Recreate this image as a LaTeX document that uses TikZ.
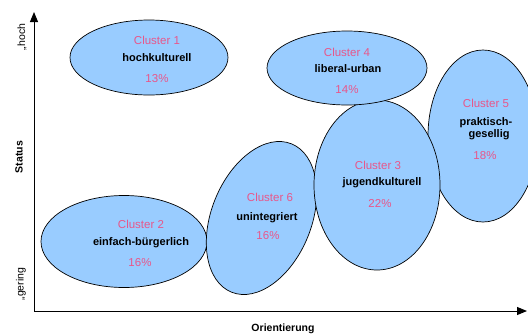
\documentclass[tikz,border=0pt]{standalone}
\usepackage{fontspec}
\setmainfont{Liberation Sans}
\usetikzlibrary{arrows.meta}
\definecolor{clfill}{HTML}{99CCFF}
\definecolor{clpink}{HTML}{E8568A}
\tikzset{
  clshape/.style={fill=clfill, draw=black, line width=0.7pt},
  cltitle/.style={text=clpink, font=\fontsize{11.5}{13}\selectfont, inner sep=0pt},
  clname/.style={text=black, font=\fontsize{11}{13}\selectfont\bfseries, inner sep=0pt, align=center},
  clpct/.style={text=clpink, font=\fontsize{11.5}{13}\selectfont, inner sep=0pt},
  axis/.style={line width=1pt, -{Triangle[length=10pt,width=8pt]}},
  axlabel/.style={font=\fontsize{10.5}{12}\selectfont\bfseries, inner sep=0pt},
  axend/.style={font=\fontsize{10.5}{12}\selectfont, inner sep=0pt}
}
\begin{document}
\begin{tikzpicture}[x=1pt,y=-1pt]
\useasboundingbox (0,0) rectangle (528,333);
\clip (0,0) rectangle (528,333);
% axes
\coordinate (o) at (34,311);
\coordinate (ytop) at (34,12);
\coordinate (xend) at (527,311);
\draw[axis] (o) -- (ytop);
\draw[axis] (o) -- (xend);
\node[axlabel, rotate=90] (status) at (19,157) {Status};
\node[axend, rotate=90] (hoch) at (22,37) {„hoch};
\node[axend, rotate=90] (gering) at (21,284) {„gering};
\node[axlabel, anchor=north] (orient) at (283,324) {Orientierung};
% clusters
\path[clshape] (149,57.5) ellipse [x radius=79, y radius=37.5];
\path[clshape] (124,241.5) ellipse [x radius=83, y radius=46];
\path[clshape] (261.5,218) ellipse [x radius=50, y radius=80, rotate=-22];
\path[clshape] (483,136) ellipse [x radius=55, y radius=86];
\path[clshape] (377,185) ellipse [x radius=63, y radius=85];
\path[clshape] (347,68) ellipse [x radius=80, y radius=37];
% texts
\node[cltitle] (c1t) at (157,40) {Cluster 1};
\node[clname] (c1n) at (157,58) {hochkulturell};
\node[clpct] (c1p) at (157,79) {13\%};
\node[cltitle] (c4t) at (347,52) {Cluster 4};
\node[clname] (c4n) at (348,69) {liberal-urban};
\node[clpct] (c4p) at (347,90) {14\%};
\node[cltitle] (c5t) at (486,103) {Cluster 5};
\node[clname] (c5n) at (486,129) {praktisch-\\[-1pt]\ \ gesellig};
\node[clpct] (c5p) at (485,156) {18\%};
\node[cltitle] (c3t) at (378,165) {Cluster 3};
\node[clname] (c3n) at (382,183) {jugendkulturell};
\node[clpct] (c3p) at (380,204) {22\%};
\node[cltitle] (c6t) at (270,197) {Cluster 6};
\node[clname] (c6n) at (267,218) {unintegriert};
\node[clpct] (c6p) at (268,236) {16\%};
\node[cltitle] (c2t) at (141,224) {Cluster 2};
\node[clname] (c2n) at (141,243) {einfach-bürgerlich};
\node[clpct] (c2p) at (140,263) {16\%};
\end{tikzpicture}
\end{document}
